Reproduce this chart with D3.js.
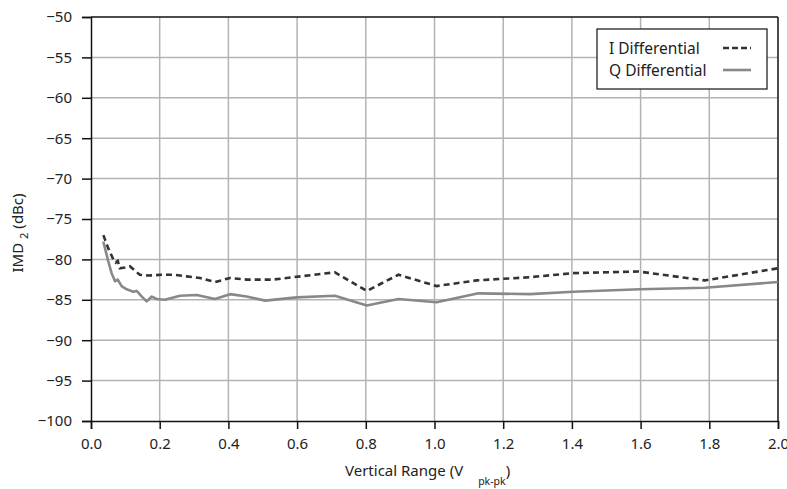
<!DOCTYPE html>
<html>
<head>
<meta charset="utf-8">
<script src="https://cdn.jsdelivr.net/npm/d3@7/dist/d3.min.js"></script>
<style>
  html, body { margin: 0; padding: 0; background: #fff; }
  svg text { font-family: "Noto Sans", "Open Sans", sans-serif; fill: #222; }
</style>
</head>
<body>
<svg id="chart" width="787" height="489"></svg>
<script>
// IMD2 versus vertical range, I and Q differential inputs
const iDiffX = [0.036, 0.050, 0.065, 0.072, 0.078, 0.084, 0.099, 0.113, 0.128, 0.142, 0.167, 0.206, 0.240, 0.278, 0.317, 0.361, 0.405, 0.453, 0.530, 0.610, 0.710, 0.803, 0.895, 1.006, 1.123, 1.278, 1.404, 1.594, 1.787, 2.000];
const iDiffY = [-77.0, -78.6, -80.0, -80.4, -80.2, -81.1, -81.0, -80.85, -81.4, -81.9, -82.0, -81.9, -81.9, -82.1, -82.3, -82.8, -82.3, -82.5, -82.5, -82.1, -81.6, -83.9, -81.9, -83.3, -82.6, -82.2, -81.7, -81.5, -82.6, -81.1];

const qDiffX = [0.036, 0.050, 0.060, 0.070, 0.078, 0.089, 0.104, 0.123, 0.133, 0.148, 0.162, 0.177, 0.191, 0.215, 0.259, 0.308, 0.361, 0.405, 0.453, 0.507, 0.599, 0.710, 0.803, 0.895, 1.006, 1.128, 1.278, 1.404, 1.598, 1.787, 2.000];
const qDiffY = [-77.8, -80.2, -81.7, -82.7, -82.5, -83.3, -83.7, -84.0, -83.9, -84.6, -85.2, -84.6, -84.9, -85.0, -84.5, -84.4, -84.9, -84.3, -84.6, -85.1, -84.7, -84.5, -85.7, -84.9, -85.3, -84.2, -84.3, -84.0, -83.7, -83.5, -82.8];

const xTicks = [0, 0.2, 0.4, 0.6, 0.8, 1.0, 1.2, 1.4, 1.6, 1.8, 2.0];
const yTicks = [-50, -55, -60, -65, -70, -75, -80, -85, -90, -95, -100];
const seriesNames = ["I Differential", "Q Differential"];

const svg = d3.select("#chart");
const plotL = 91, plotR = 778, plotT = 17, plotB = 421;

const x = d3.scaleLinear().domain([0, 2]).range([plotL, plotR]);
const y = d3.scaleLinear().domain([-100, -50]).range([plotB, plotT]);

const fmtY = d => (d < 0 ? "\u2212" + Math.abs(d) : String(d));

// grid
const grid = svg.append("g");
grid.selectAll("line.v").data(xTicks.slice(1, -1)).enter().append("line")
  .attr("x1", d => x(d)).attr("x2", d => x(d)).attr("y1", plotT).attr("y2", plotB)
  .attr("stroke", "#b3b3b3").attr("stroke-width", 1.5);
grid.selectAll("line.h").data(yTicks.slice(1, -1)).enter().append("line")
  .attr("y1", d => y(d)).attr("y2", d => y(d)).attr("x1", plotL).attr("x2", plotR)
  .attr("stroke", "#b3b3b3").attr("stroke-width", 1.5);

// frame top / right
svg.append("line").attr("x1", plotL).attr("x2", plotR).attr("y1", plotT).attr("y2", plotT)
  .attr("stroke", "#111").attr("stroke-width", 1.5);
svg.append("line").attr("x1", plotR).attr("x2", plotR).attr("y1", plotT).attr("y2", plotB)
  .attr("stroke", "#111").attr("stroke-width", 1.5);

// axes
const xAxis = svg.append("g").attr("transform", `translate(0,${plotB})`)
  .call(d3.axisBottom(x).tickValues(xTicks).tickFormat(d3.format(".1f")).tickSize(8).tickPadding(9));
const yAxis = svg.append("g").attr("transform", `translate(${plotL},0)`)
  .call(d3.axisLeft(y).tickValues(yTicks).tickFormat(fmtY).tickSize(9).tickPadding(10));
[xAxis, yAxis].forEach(a => {
  a.select(".domain").attr("stroke", "#111").attr("stroke-width", 1.5);
  a.selectAll(".tick line").attr("stroke", "#111").attr("stroke-width", 1.5);
  a.selectAll(".tick text").attr("font-size", 15).attr("fill", "#222")
    .style("font-family", "'Noto Sans', sans-serif");
});

// series
const line = d3.line().x(d => x(d[0])).y(d => y(d[1]));
const iData = iDiffX.map((v, i) => [v, iDiffY[i]]);
const qData = qDiffX.map((v, i) => [v, qDiffY[i]]);

svg.append("path").datum(qData).attr("d", line)
  .attr("fill", "none").attr("stroke", "#888").attr("stroke-width", 2.6)
  .attr("stroke-linejoin", "round");
svg.append("path").datum(iData).attr("d", line)
  .attr("fill", "none").attr("stroke", "#333").attr("stroke-width", 2.6)
  .attr("stroke-dasharray", "6,4");

// legend
const lg = svg.append("g");
lg.append("rect").attr("x", 597).attr("y", 29).attr("width", 170).attr("height", 60)
  .attr("fill", "#fff").attr("stroke", "#111").attr("stroke-width", 1.2);
const styles = [{ c: "#333", dash: "6,3" }, { c: "#888", dash: null }];
seriesNames.forEach((n, i) => {
  const cy = 48 + i * 22;
  lg.append("text").attr("x", 609).attr("y", cy + 6).attr("font-size", 15.5).text(n);
  lg.append("line").attr("x1", 723).attr("x2", 751).attr("y1", cy).attr("y2", cy)
    .attr("stroke", styles[i].c).attr("stroke-width", 2.6)
    .attr("stroke-dasharray", styles[i].dash);
});

// axis titles
const xt = svg.append("text").attr("x", 345).attr("y", 476).attr("font-size", 15);
xt.append("tspan").text("Vertical Range (V");
xt.append("tspan").attr("dx", 15).attr("dy", 9).attr("font-size", 10.5).text("pk-pk");
xt.append("tspan").attr("dy", -9).text(")");

const yt = svg.append("text").attr("transform", "translate(23,233) rotate(-90)")
  .attr("text-anchor", "middle").attr("font-size", 15);
yt.append("tspan").text("IMD");
yt.append("tspan").attr("dx", 4).attr("dy", 5).attr("font-size", 11).text("2");
yt.append("tspan").attr("dx", 4).attr("dy", -5).text("(dBc)");
</script>
</body>
</html>
